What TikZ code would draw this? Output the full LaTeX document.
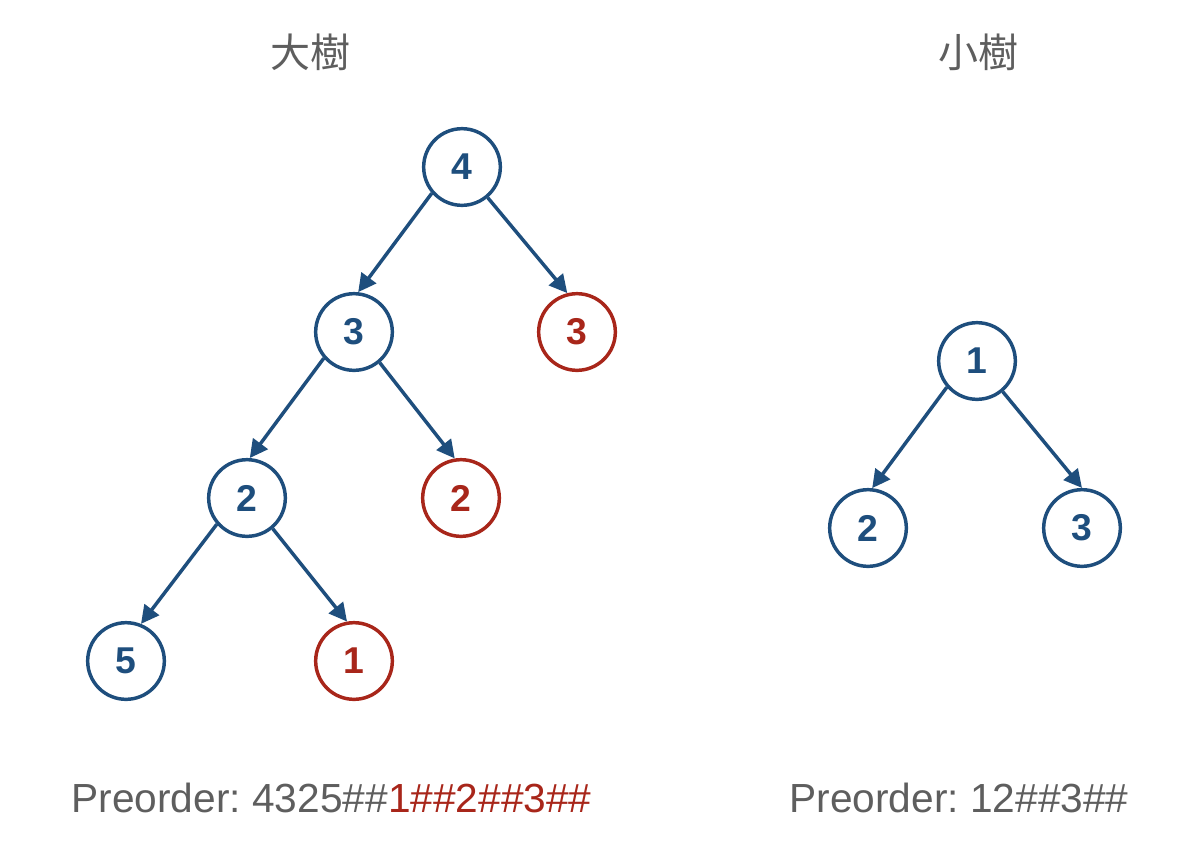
\documentclass[tikz,border=0pt]{standalone}
\usepackage{fontspec}
\setmainfont{Liberation Sans}
\newfontfamily\cjkfont{Noto Sans CJK TC}
\usetikzlibrary{arrows.meta}
\frenchspacing

\definecolor{treeblue}{RGB}{30,78,125}
\definecolor{treered}{RGB}{168,38,26}
\definecolor{textgray}{RGB}{94,94,94}

\tikzset{every picture/.style={line width=0.75pt}}
\tikzset{
  tnode/.style={circle,draw=treeblue,text=treeblue,line width=2.6pt,minimum size=57.5pt,inner sep=0pt,font=\fontsize{28}{30}\selectfont\bfseries},
  rnode/.style={tnode,draw=treered,text=treered},
  edge/.style={draw=treeblue,line width=2.6pt,-{Triangle[length=13.5pt,width=13.5pt]}},
  txt/.style={inner sep=0.75pt,text=textgray,font=\fontsize{30.5}{32}\selectfont}
}

\begin{document}
\begin{tikzpicture}[x=0.75pt,y=0.75pt,yscale=-1,xscale=1]
\path[use as bounding box] (0,0) rectangle (1196,854);

% Big tree
\node[tnode] (b4) at (462,167) {4};
\node[tnode] (b3) at (354,332) {3};
\node[rnode] (b3r) at (577,332) {3};
\node[tnode] (b2) at (247,498) {2};
\node[rnode] (b2r) at (461,498) {2};
\node[tnode] (b5) at (126,661) {5};
\node[rnode] (b1r) at (354,661) {1};

% Small tree
\node[tnode] (s1) at (977,361) {1};
\node[tnode] (s2) at (868,528) {2};
\node[tnode] (s3) at (1082,528) {3};

% Edges
\draw[edge] (b4.-139) -- (b3.84);
\draw[edge] (b4.-50) -- (b3r.104);
\draw[edge] (b3.-139) -- (b2.86);
\draw[edge] (b3.-50) -- (b2r.99);
\draw[edge] (b2.-139) -- (b5.68);
\draw[edge] (b2.-50) -- (b1r.100);
\draw[edge] (s1.-139) -- (s2.84);
\draw[edge] (s1.-50) -- (s3.90);

% Text Node
\node[txt,font=\fontsize{30}{32}\cjkfont] (bigtitle) at (310,52) {大樹};
% Text Node
\node[txt,font=\fontsize{30}{32}\cjkfont] (smalltitle) at (978,52) {小樹};
% Text Node
\node[txt,anchor=base west] (bigorder) at (70,812) {Preorder: 4325\#\#\textcolor{treered}{1\#\#2\#\#3\#\#}};
% Text Node
\node[txt,anchor=base west] (smallorder) at (788,812) {Preorder: 12\#\#3\#\#};

\end{tikzpicture}
\end{document}
